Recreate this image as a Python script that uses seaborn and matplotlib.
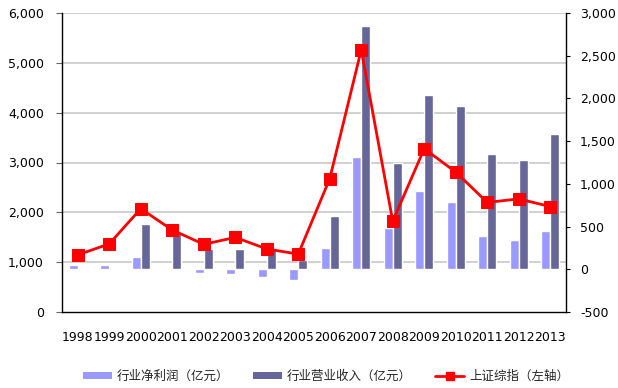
import matplotlib
matplotlib.use("Agg")
import matplotlib.pyplot as plt
import matplotlib.transforms as mtransforms
from matplotlib.patches import Patch
from matplotlib.lines import Line2D
from matplotlib.ticker import FuncFormatter, FixedLocator
import numpy as np
import pandas as pd
import seaborn as sns

years = ['1998', '1999', '2000', '2001', '2002', '2003', '2004', '2005',
         '2006', '2007', '2008', '2009', '2010', '2011', '2012', '2013']
net_profit = [50, 50, 140, 15, -40, -55, -90, -120, 255, 1313, 482, 922, 782, 389, 337, 443]
revenue = [0, 0, 533, 430, 240, 240, 250, 110, 620, 2843, 1250, 2035, 1914, 1352, 1285, 1583]
sh_index = [1146, 1367, 2073, 1646, 1358, 1497, 1266, 1161, 2675, 5261, 1821, 3277, 2808, 2199, 2269, 2116]

label_np = '行业净利润（亿元）'
label_rev = '行业营业收入（亿元）'
label_sh = '上证综指（左轴）'
left_ticks = [0, 1000, 2000, 3000, 4000, 5000, 6000]
right_ticks = [-500, 0, 500, 1000, 1500, 2000, 2500, 3000]

sns.set_style("white")
plt.rcParams['font.family'] = ['DejaVu Sans', 'Noto Sans CJK SC']
plt.rcParams['axes.unicode_minus'] = False

fig = plt.figure(figsize=(6.18, 3.88), dpi=100)
ax = fig.add_axes([62/618, 1 - 312/388, (566 - 62)/618, (312 - 13)/388])
ax2 = ax.twinx()

df = pd.DataFrame({
    'year': years * 2,
    'series': [label_np] * len(years) + [label_rev] * len(years),
    'value': net_profit + revenue,
})
sns.barplot(data=df, x='year', y='value', hue='series', ax=ax2,
            palette={label_np: '#9999FF', label_rev: '#666699'},
            width=0.57, saturation=1, legend=False, errorbar=None, zorder=2)
ax2.set_ylim(-500, 3000)
ax2.set_yticks(right_ticks)
ax2.yaxis.set_major_formatter(FuncFormatter(lambda v, p: f'{int(v):,}'))
ax2.set_ylabel('')
ax2.set_xlabel('')
# grid lines at the left-axis ticks, drawn behind the bars
blend = mtransforms.blended_transform_factory(ax2.transAxes, ax.transData)
ax2.hlines(left_ticks[1:], 0, 1, transform=blend, colors='#c8c8c8', linewidth=1.2, zorder=0.5)

ax.set_zorder(ax2.get_zorder() + 1)
ax.patch.set_visible(False)
sns.lineplot(x=np.arange(len(years)), y=sh_index, ax=ax, color='#FF0000', linewidth=2,
             marker='s', markersize=9, markeredgecolor='#FF0000', zorder=5)
ax.set_ylim(0, 6000)
ax.set_yticks(left_ticks)
ax.yaxis.set_major_formatter(FuncFormatter(lambda v, p: f'{int(v):,}'))
ax.set_xlim(-0.5, len(years) - 0.5)
ax.xaxis.set_major_locator(FixedLocator(np.arange(len(years))))
ax.set_xticklabels(years)
ax.xaxis.set_minor_locator(FixedLocator(np.arange(len(years) + 1) - 0.5))
ax.set_xlabel('')
ax.set_ylabel('')

for s in ['top', 'right']:
    ax.spines[s].set_visible(False)
for s in ['top', 'left', 'bottom']:
    ax2.spines[s].set_visible(False)
for s in ['left', 'bottom']:
    ax.spines[s].set_color('black')
    ax.spines[s].set_linewidth(1.0)
ax2.spines['right'].set_color('black')
ax2.spines['right'].set_linewidth(1.0)

ax.tick_params(axis='x', which='major', length=0, pad=14, labelsize=9, colors='black')
ax.tick_params(axis='x', which='minor', direction='in', length=3, width=0.8, color='#444444')
ax.tick_params(axis='y', which='major', direction='out', length=4, width=0.8, pad=9,
               labelsize=9, left=True, color='#666666', labelcolor='black')
ax2.tick_params(axis='y', which='major', direction='out', length=3, width=0.8, pad=7,
                labelsize=9, right=True, color='black', labelcolor='black')

handles = [
    Patch(facecolor='#9999FF', edgecolor='none'),
    Patch(facecolor='#666699', edgecolor='none'),
    Line2D([0], [0], color='#FF0000', linewidth=2, marker='s', markersize=6),
]
fig.legend(handles, [label_np, label_rev, label_sh], loc='center',
           bbox_to_anchor=(0.5275, 1 - 376/388), ncol=3, frameon=False,
           prop={'family': ['Noto Sans CJK SC', 'DejaVu Sans'], 'size': 9},
           handlelength=2.3, handleheight=0.5, columnspacing=1.9, handletextpad=0.4)

fig.savefig('out.png', dpi=100)
